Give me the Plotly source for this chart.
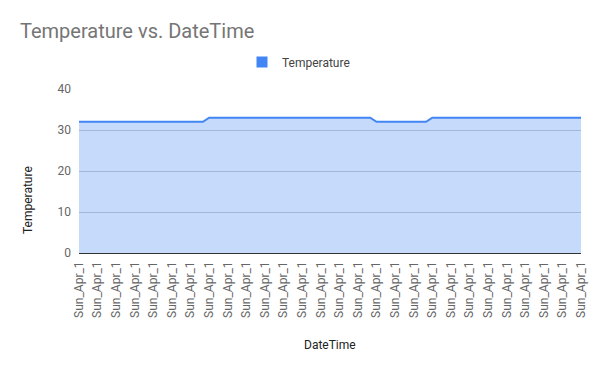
import plotly.graph_objects as go

# Data
temperature = [32]*21 + [33]*27 + [32]*9 + [33]*25
tick_label = "Sun_Apr_1"
label_every = 3
y_ticks = [0, 10, 20, 30, 40]

x_idx = list(range(len(temperature)))
tickvals = x_idx[::label_every]
ticktext = [tick_label for _ in tickvals]

# page body has an 8px margin; figure drawn from window (8,8)
O = 8
W, H = 600 - O, 371 - O
PL, PR, PT, PB = 79, 581, 89, 253  # plot area in window pixels
L, R, T, B = PL - O, 600 - PR, PT - O, 371 - PB
pw = PR - PL
ph = PB - PT

def px_x(px):
    return (px - PL) / pw

def px_y(py):
    return (PB - py) / ph

fig = go.Figure()
fig.add_trace(go.Scatter(
    x=x_idx, y=temperature, mode="lines",
    line=dict(color="#4285f4", width=2),
    fill="tozeroy", fillcolor="rgba(66,133,244,0.3)",
    showlegend=False, hoverinfo="skip",
))
fig.add_trace(go.Scatter(
    x=[None], y=[None], mode="markers", name="Temperature",
    marker=dict(symbol="square", size=11, color="#4285f4"),
    showlegend=True,
))

fig.update_layout(
    width=W, height=H,
    margin=dict(l=L, r=R, t=T, b=B, autoexpand=False),
    paper_bgcolor="white", plot_bgcolor="white",
    font=dict(family="Roboto", color="#555555"),
    title=dict(text="Temperature vs. DateTime", x=(20 - O)/W, xanchor="left",
               y=1 - (31 - O)/H, yanchor="middle",
               font=dict(size=20, color="#757575", family="Roboto")),
    showlegend=True,
    legend=dict(orientation="h", x=px_x(242), xanchor="left",
                y=px_y(62), yanchor="middle",
                font=dict(size=12, color="#444444", family="Roboto"),
                bgcolor="rgba(0,0,0,0)"),
    xaxis=dict(range=[0, len(temperature) - 1], tickmode="array",
               tickvals=tickvals, ticktext=ticktext, tickangle=-90,
               showgrid=False, zeroline=False, showline=False,
               automargin=False, ticklabelstandoff=5,
               ticks="", tickfont=dict(size=12, color="#666666")),
    yaxis=dict(range=[0, 40], tickvals=y_ticks, showgrid=True,
               gridcolor="#cccccc", gridwidth=1, zeroline=True,
               zerolinecolor="#333333", zerolinewidth=1,
               automargin=False, ticklabelstandoff=7,
               ticks="", tickfont=dict(size=12, color="#666666")),
    annotations=[
        dict(text="Temperature", xref="paper", yref="paper",
             x=px_x(28), y=px_y(200), textangle=-90, showarrow=False,
             xanchor="center", yanchor="middle",
             font=dict(size=12, color="#222222", family="Roboto")),
        dict(text="DateTime", xref="paper", yref="paper",
             x=px_x(330), y=px_y(345), showarrow=False,
             xanchor="center", yanchor="middle",
             font=dict(size=12, color="#222222", family="Roboto")),
    ],
)

fig.write_html("out.html")
